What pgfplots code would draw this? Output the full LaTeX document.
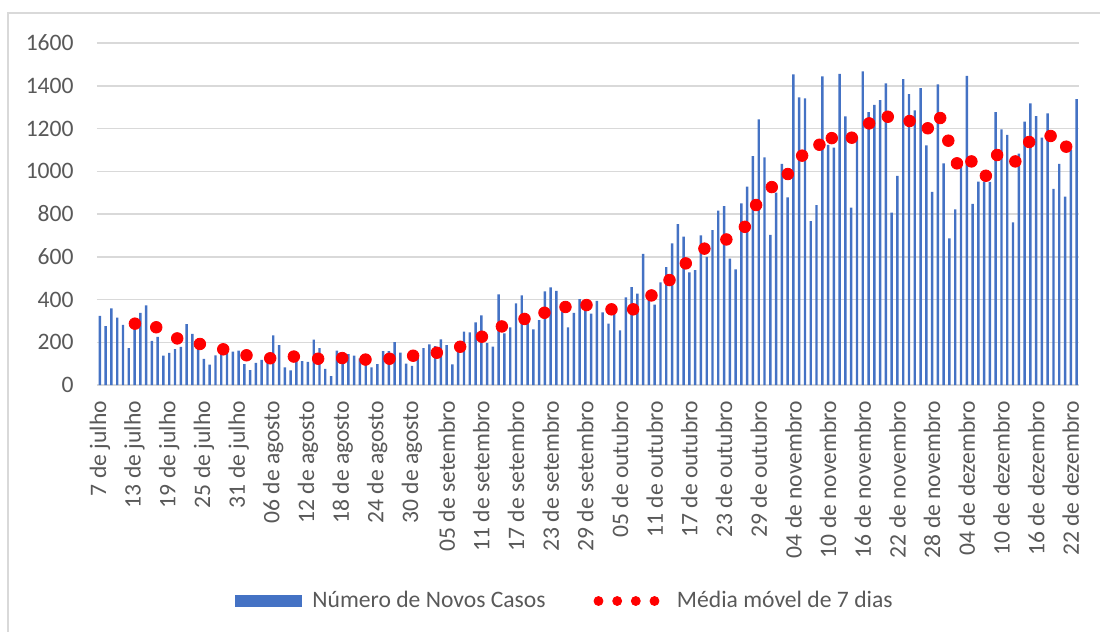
\documentclass[border=0pt]{standalone}
\usepackage{fontspec}
\setmainfont{Carlito}
\usepackage{pgfplots}
\pgfplotsset{compat=1.18}
\definecolor{barblue}{HTML}{4472C4}
\definecolor{gridgray}{HTML}{D9D9D9}
\definecolor{txtgray}{HTML}{595959}
\newcommand{\lbl}{\fontsize{11.8}{14}\selectfont}
\begin{document}
\begin{tikzpicture}
\useasboundingbox (-48.5pt,-123.5pt) rectangle (501.5pt,192.5pt);
\draw[gridgray, line width=0.75pt] (-44.5pt,-130pt) -- (-44.5pt,186pt) -- (510pt,186pt);
\begin{axis}[
  at={(0pt,0pt)}, anchor=south west,
  scale only axis, width=491.25pt, height=171pt,
  xmin=-0.5, xmax=169.5, ymin=0, ymax=1600,
  ytick={0,200,...,1600},
  ymajorgrids, grid style={gridgray, line width=0.75pt},
  axis line style={draw=none},
  tick style={draw=none},
  xtick={0,6,...,168},
  xticklabels={7 de julho,13 de julho,19 de julho,25 de julho,31 de julho,06 de agosto,12 de agosto,18 de agosto,24 de agosto,30 de agosto,05 de setembro,11 de setembro,17 de setembro,23 de setembro,29 de setembro,05 de outubro,11 de outubro,17 de outubro,23 de outubro,29 de outubro,04 de novembro,10 de novembro,16 de novembro,22 de novembro,28 de novembro,04 de dezembro,10 de dezembro,16 de dezembro,22 de dezembro},
  xticklabel style={rotate=90, anchor=east, font=\lbl, text=txtgray, inner sep=0pt},
  xticklabel shift=7.8pt,
  yticklabel style={font=\lbl, text=txtgray, inner sep=0pt},
  yticklabel shift=11.5pt,
  /pgf/number format/assume math mode=true,
  /pgf/number format/1000 sep={},
  bar width=0.42,
  legend columns=2,
  legend style={draw=none, fill=none, font=\lbl, text=txtgray,
    at={(0.1344,-0.6316)}, anchor=west,
    /tikz/every odd column/.append style={column sep=3pt},
    /tikz/every even column/.append style={column sep=22pt}},
]
\addplot[ybar, fill=barblue, draw=none, bar shift=0pt,
  legend image code/.code={\fill[barblue] (0pt,-3pt) rectangle (33.5pt,3pt);}]
coordinates {
(0,323) (1,276) (2,359) (3,315) (4,281) (5,173) (6,300) (7,337) (8,373) (9,206)
(10,225) (11,137) (12,150) (13,168) (14,178) (15,285) (16,239) (17,185) (18,122) (19,95)
(20,139) (21,160) (22,158) (23,156) (24,161) (25,98) (26,70) (27,103) (28,117) (29,130)
(30,232) (31,186) (32,83) (33,69) (34,112) (35,112) (36,108) (37,212) (38,173) (39,75)
(40,42) (41,161) (42,150) (43,144) (44,137) (45,125) (46,117) (47,83) (48,98) (49,158)
(50,158) (51,201) (52,151) (53,100) (54,89) (55,133) (56,172) (57,190) (58,182) (59,214)
(60,186) (61,97) (62,155) (63,250) (64,246) (65,293) (66,326) (67,196) (68,179) (69,424)
(70,242) (71,270) (72,382) (73,419) (74,288) (75,260) (76,304) (77,438) (78,457) (79,440)
(80,343) (81,270) (82,337) (83,402) (84,380) (85,334) (86,393) (87,340) (88,287) (89,332)
(90,256) (91,410) (92,458) (93,427) (94,613) (95,405) (96,376) (97,480) (98,552) (99,663)
(100,753) (101,694) (102,527) (103,538) (104,700) (105,599) (106,724) (107,816) (108,837) (109,591)
(110,541) (111,850) (112,928) (113,1071) (114,1243) (115,1065) (116,702) (117,900) (118,1034) (119,878)
(120,1453) (121,1346) (122,1341) (123,767) (124,842) (125,1444) (126,1123) (127,1110) (128,1456) (129,1257)
(130,830) (131,1160) (132,1467) (133,1277) (134,1311) (135,1333) (136,1411) (137,807) (138,978) (139,1431)
(140,1361) (141,1285) (142,1389) (143,1121) (144,903) (145,1407) (146,1037) (147,686) (148,822) (149,1021)
(150,1446) (151,847) (152,951) (153,951) (154,950) (155,1277) (156,1196) (157,1170) (158,761) (159,1082)
(160,1232) (161,1318) (162,1258) (163,1157) (164,1271) (165,917) (166,1035) (167,881) (168,1100) (169,1338)
};
\addlegendentry{Número de Novos Casos}
\addplot[only marks, mark=*, mark size=2.9pt, color=red, mark options={draw=red, fill=red},
  legend image code/.code={\fill[red] (2.25pt,0pt) circle (2.25pt) (11.6pt,0pt) circle (2.25pt) (20.9pt,0pt) circle (2.25pt) (30.25pt,0pt) circle (2.25pt); \path[draw=none, fill=none] (0pt,0pt) rectangle (36.5pt,0.1pt);}]
coordinates {
(6.06,287) (9.75,270) (13.38,218) (17.3,192) (21.34,167) (25.37,139) (29.47,125) (33.56,133)
(37.77,123) (41.93,126) (45.96,119) (50.11,123) (54.2,137) (58.3,151) (62.34,179) (66.1,226)
(69.55,274) (73.47,309) (76.93,338) (80.56,365) (84.2,374) (88.52,354) (92.27,354) (95.44,419)
(98.56,491) (101.38,569) (104.6,638) (108.4,681) (111.6,740) (113.55,842) (116.26,926) (119.03,987)
(121.51,1073) (124.5,1124) (126.64,1155) (130.1,1157) (133.1,1224) (136.33,1255) (140.1,1235) (143.25,1201)
(145.4,1249) (146.8,1143) (148.3,1037) (150.8,1046) (153.3,979) (155.25,1076) (158.4,1046) (160.8,1137)
(164.5,1165) (167.2,1115)
};
\addlegendentry{Média móvel de 7 dias}
\end{axis}
\end{tikzpicture}
\end{document}
